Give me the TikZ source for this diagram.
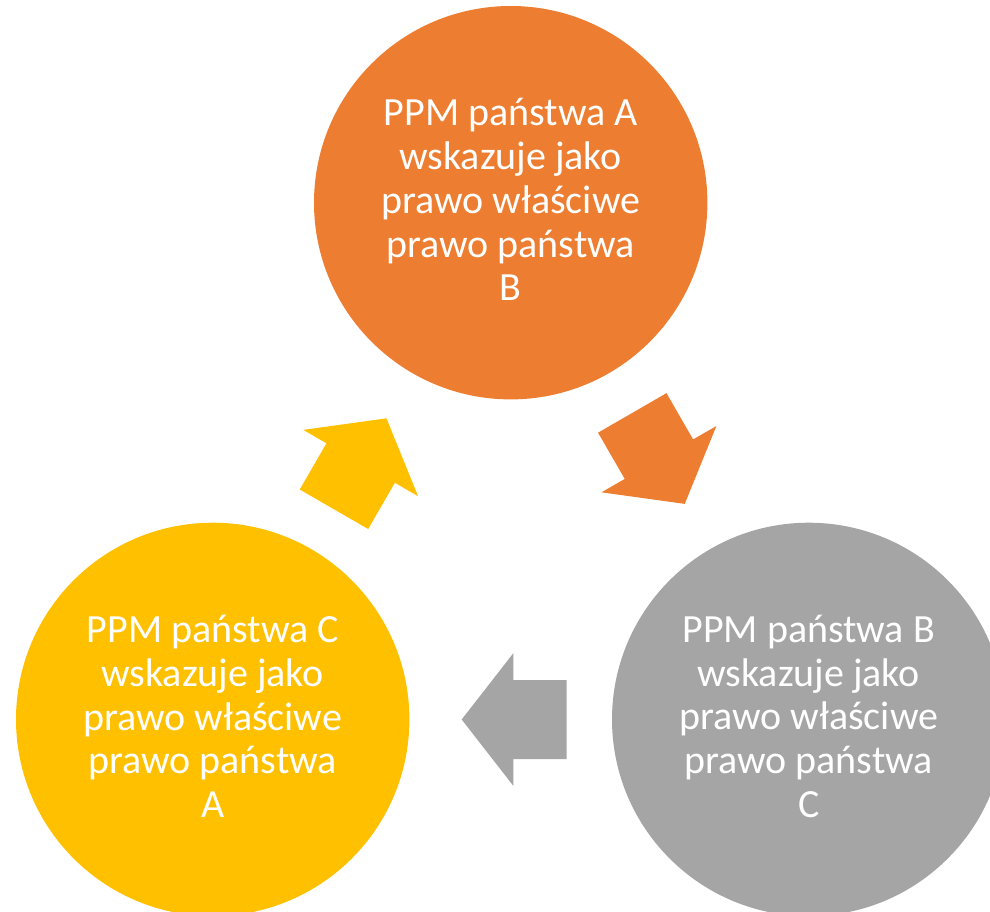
\documentclass[tikz,border=0pt]{standalone}
\usepackage{fontspec}
\setmainfont{Carlito}
\definecolor{orangeA}{HTML}{ED7D31}
\definecolor{grayB}{HTML}{A5A5A5}
\definecolor{yellowC}{HTML}{FFC000}
\tikzset{
  bubble/.style={circle, minimum size=393.4pt, inner sep=0pt, draw=none},
  lbl/.style={text=white, align=center, inner sep=0pt,
    font=\fontsize{40}{43.8}\selectfont},
  blockarrow/.pic={
    \fill[pic actions] (-52.5,-39.5) -- (0.9,-39.5) -- (0.9,-66.3) -- (52.5,0)
      -- (0.9,66.3) -- (0.9,39.5) -- (-52.5,39.5) -- cycle;
  }
}
\begin{document}
\begin{tikzpicture}[x=1pt,y=-1pt]
\useasboundingbox (0,0) rectangle (990,912);
\clip (0,0) rectangle (990,912);
% circles
\node[bubble, fill=orangeA] (A) at (510.7,202.7) {};
\node[bubble, fill=grayB] (B) at (808.7,719.4) {};
\node[bubble, fill=yellowC] (C) at (212.7,719.4) {};
% texts
\node[lbl] (tA) at ([yshift=3pt]A.center) {PPM państwa A\\wskazuje jako\\prawo właściwe\\prawo państwa\\B};
\node[lbl] (tB) at ([yshift=3pt]B.center) {PPM państwa B\\wskazuje jako\\prawo właściwe\\prawo państwa\\C};
\node[lbl] (tC) at ([yshift=3pt]C.center) {PPM państwa C\\wskazuje jako\\prawo właściwe\\prawo państwa\\A};
% arrows
\pic[fill=orangeA, rotate=-60] (arrAB) at (658.5,458.4) {blockarrow};
\pic[fill=grayB, rotate=180] (arrBC) at (514.2,719.5) {blockarrow};
\pic[fill=yellowC, rotate=60] (arrCA) at (360.2,463.8) {blockarrow};
\end{tikzpicture}
\end{document}
